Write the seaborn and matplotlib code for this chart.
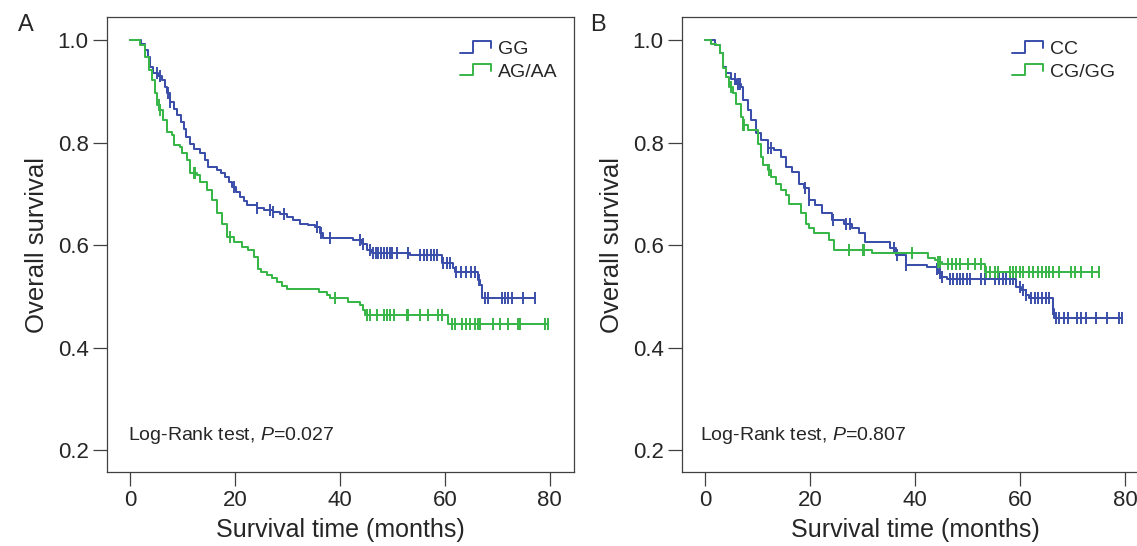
import numpy as np
import pandas as pd
import matplotlib
matplotlib.use("Agg")
import matplotlib.pyplot as plt
import seaborn as sns
from matplotlib.lines import Line2D
from matplotlib.legend_handler import HandlerBase

# ---- data (time in months, survival after the step) ----
gg_time = [0, 2.0, 2.8, 3.3, 3.7, 4.4, 5.2, 6.0, 6.6, 7.0, 7.6, 8.3, 9.0, 9.6, 10.2, 10.7,
           11.4, 12.2, 13.3, 14.2, 14.9, 16.5, 17.3, 18.1, 18.9, 19.4, 20.2, 21.0, 21.6,
           22.2, 24.1, 25.5, 27.3, 28.6, 29.8, 31.0, 32.4, 33.8, 35.2, 36.2, 36.8, 42.5,
           44.1, 45.1, 46.0, 53.3, 59.4, 61.6, 61.9, 66.3, 66.7, 67.0, 77.1]
gg_surv = [1.0, 0.993, 0.981, 0.967, 0.948, 0.935, 0.929, 0.922, 0.909, 0.896, 0.88, 0.866,
           0.853, 0.84, 0.827, 0.811, 0.798, 0.788, 0.779, 0.766, 0.753, 0.746, 0.74, 0.733,
           0.724, 0.714, 0.704, 0.694, 0.686, 0.678, 0.672, 0.668, 0.665, 0.66, 0.655, 0.649,
           0.642, 0.639, 0.636, 0.623, 0.613, 0.61, 0.603, 0.59, 0.585, 0.58, 0.564, 0.556,
           0.548, 0.532, 0.522, 0.496, 0.496]
gg_cens = [5.1, 5.7, 7.2, 7.6, 19.7, 24.1, 26.7, 27.3, 29.4, 35.6, 36.3, 38.1, 43.8, 44.4,
           45.7, 46.2, 46.8, 47.3, 47.9, 48.4, 49.0, 49.5, 50.0, 50.8, 53.0, 55.2, 56.0, 56.6,
           57.3, 58.0, 58.5, 59.6, 60.3, 61.0, 62.2, 63.0, 64.0, 65.0, 65.7, 66.5, 67.6, 68.3,
           70.8, 71.5, 72.1, 72.7, 74.9, 77.1]

ag_time = [0, 1.9, 2.9, 3.5, 4.1, 4.8, 5.1, 5.7, 6.3, 7.0, 7.9, 8.3, 9.5, 9.8, 10.8, 11.4,
           12.7, 13.3, 14.6, 15.6, 16.5, 17.5, 18.4, 19.7, 21.3, 22.5, 23.5, 24.4, 25.0, 26.0,
           27.0, 28.0, 29.0, 29.8, 35.9, 37.5, 38.1, 41.6, 43.8, 44.4, 44.8, 60.6, 79.7]
ag_surv = [1.0, 0.99, 0.967, 0.941, 0.922, 0.896, 0.873, 0.863, 0.844, 0.821, 0.815, 0.795,
           0.792, 0.779, 0.766, 0.74, 0.737, 0.724, 0.707, 0.688, 0.662, 0.642, 0.616, 0.606,
           0.597, 0.59, 0.577, 0.554, 0.548, 0.541, 0.535, 0.528, 0.521, 0.515, 0.509, 0.502,
           0.496, 0.489, 0.483, 0.473, 0.463, 0.446, 0.446]
ag_cens = [5.4, 5.7, 12.1, 12.4, 19.0, 39.0, 45.1, 45.7, 47.0, 48.3, 48.9, 49.5, 50.2, 52.7,
           53.0, 55.2, 56.8, 58.7, 59.4, 61.3, 62.0, 63.2, 64.1, 64.8, 65.7, 66.3, 66.7, 69.2,
           70.5, 72.1, 73.9, 74.3, 79.0, 79.7]

cc_time = [0, 1.8, 2.7, 3.4, 4.0, 4.9, 5.9, 6.8, 7.1, 8.1, 8.7, 9.7, 10.6, 11.9, 13.1, 14.4,
           15.4, 16.6, 17.9, 18.8, 19.8, 21.0, 22.3, 24.2, 26.4, 28.0, 29.3, 30.5, 35.3, 36.3,
           38.2, 42.2, 44.1, 44.4, 45.1, 46.0, 59.3, 60.2, 61.2, 61.8, 66.2, 66.5, 79.5]
cc_surv = [1.0, 0.99, 0.974, 0.948, 0.935, 0.925, 0.915, 0.909, 0.883, 0.863, 0.844, 0.818,
           0.805, 0.789, 0.785, 0.772, 0.753, 0.743, 0.72, 0.711, 0.688, 0.678, 0.662, 0.649,
           0.642, 0.633, 0.623, 0.606, 0.595, 0.58, 0.562, 0.558, 0.554, 0.545, 0.537, 0.533,
           0.519, 0.512, 0.502, 0.496, 0.476, 0.457, 0.457]
cc_cens = [5.7, 6.3, 6.6, 11.9, 12.5, 19.0, 19.8, 24.4, 26.9, 27.5, 35.9, 36.5, 38.2, 44.1,
           44.7, 45.1, 46.6, 47.3, 47.9, 48.5, 49.2, 49.8, 50.4, 52.6, 53.3, 55.2, 56.0, 56.7,
           57.3, 58.0, 58.6, 60.0, 60.6, 61.2, 62.1, 62.8, 63.5, 64.2, 65.0, 65.6, 66.2, 66.9,
           67.5, 68.4, 69.1, 70.9, 71.6, 72.5, 74.4, 76.6, 78.8, 79.5]

cg_time = [0, 1.1, 2.1, 2.7, 3.4, 4.0, 4.6, 5.2, 5.9, 6.8, 7.1, 8.1, 10.0, 10.6, 10.9, 11.9,
           12.5, 13.5, 14.4, 15.4, 16.0, 18.2, 19.1, 19.8, 20.7, 23.6, 24.5, 31.8, 42.5, 43.7,
           44.4, 45.1, 53.3, 75.1]
cg_surv = [1.0, 0.993, 0.99, 0.974, 0.945, 0.928, 0.909, 0.896, 0.876, 0.85, 0.834, 0.824,
           0.798, 0.772, 0.756, 0.746, 0.733, 0.72, 0.707, 0.698, 0.681, 0.662, 0.642, 0.633,
           0.623, 0.61, 0.59, 0.584, 0.575, 0.571, 0.567, 0.563, 0.548, 0.548]
cg_cens = [4.9, 7.1, 7.3, 12.1, 27.4, 30.0, 30.2, 39.4, 44.4, 44.7, 46.3, 47.0, 47.8, 48.5,
           50.1, 51.4, 52.6, 53.6, 54.2, 55.3, 55.8, 58.0, 58.6, 59.3, 59.9, 60.5, 61.8, 62.5,
           63.5, 64.2, 65.0, 65.5, 66.2, 67.5, 69.7, 70.5, 71.6, 73.8, 75.1]

BLUE = "#3B4FAA"
GREEN = "#38B648"
FRAME = "#404040"
X_LO, X_HI = -4.5, 84.6

sns.set_theme(style="white")
plt.rcParams["font.family"] = ["Liberation Sans", "DejaVu Sans"]
plt.rcParams["mathtext.fontset"] = "custom"
plt.rcParams["mathtext.it"] = "Liberation Sans:italic"
plt.rcParams["mathtext.rm"] = "Liberation Sans"


class StepHandler(HandlerBase):
    # legend key drawn as a small KM step
    def create_artists(self, legend, orig_handle, xdescent, ydescent, width, height,
                       fontsize, trans):
        xs = np.array([0, 0.42, 0.42, 1.0, 1.0]) * width - xdescent
        ys = np.array([0.1, 0.1, 0.95, 0.95, 0.45]) * height - ydescent
        line = Line2D(xs, ys, color=orig_handle.get_color(), lw=1.4, transform=trans)
        return [line]


def km_frame(times, surv, group):
    return pd.DataFrame({"time": times, "surv": surv, "group": group})


def censor_frame(times, cens, surv_t, surv_s, group):
    idx = np.searchsorted(surv_t, cens, side="right") - 1
    return pd.DataFrame({"time": cens, "surv": np.asarray(surv_s)[idx], "group": group})


def draw_panel(ax, curves, labels, pval, legend_x, text_x, x_hi):
    colors = [BLUE, GREEN]
    for (t, s, c), lab, col in zip(curves, labels, colors):
        d = km_frame(t, s, lab)
        sns.lineplot(data=d, x="time", y="surv", ax=ax, color=col, lw=1.45,
                     drawstyle="steps-post", estimator=None, sort=False, legend=False)
        cf = censor_frame(t, c, t, s, lab)
        ax.plot(cf["time"], cf["surv"], ls="none", marker="|", ms=8, mew=1.4, color=col)

    ax.set_xlim(X_LO, x_hi)
    ax.set_ylim(0.157, 1.045)
    ax.set_xticks([0, 20, 40, 60, 80])
    ax.set_yticks([0.2, 0.4, 0.6, 0.8, 1.0])
    ax.set_yticklabels(["0.2", "0.4", "0.6", "0.8", "1.0"])
    ax.set_xlabel("Survival time (months)", fontsize=18)
    ax.set_ylabel("Overall survival", fontsize=18.5, labelpad=6)
    # keep the x label centred under 40 months, like in the original layout
    ax.xaxis.set_label_coords((40 - X_LO) / (x_hi - X_LO), -0.1)
    ax.tick_params(direction="out", length=10, width=0.9, color=FRAME, labelsize=16,
                   pad=3, left=True, bottom=True)
    for sp in ax.spines.values():
        sp.set_color(FRAME)
        sp.set_linewidth(0.9)

    handles = [Line2D([], [], color=BLUE), Line2D([], [], color=GREEN)]
    ax.legend(handles, labels, loc="upper left", bbox_to_anchor=(legend_x, 0.948),
              frameon=False, fontsize=14, handlelength=1.6, handletextpad=0.35,
              labelspacing=0.25, borderpad=0, borderaxespad=0,
              handler_map={Line2D: StepHandler()})
    ax.text(text_x, 0.081, "Log-Rank test, $\\mathit{P}$=" + pval, transform=ax.transAxes,
            fontsize=14, va="center", ha="left")


fig = plt.figure(figsize=(11.37, 5.46), dpi=100)
ax_a = fig.add_axes([0.0938, 0.1355, 0.411, 0.8333])
# panel B runs past the right edge of the picture, as in the original
ax_b = fig.add_axes([0.5996, 0.1355, 0.44, 0.8333])
x_hi_b = X_HI + (0.44 - 0.411) / 0.411 * (X_HI - X_LO)

draw_panel(ax_a, [(gg_time, gg_surv, gg_cens), (ag_time, ag_surv, ag_cens)],
           ["GG", "AG/AA"], "0.027", 0.756, 0.046, X_HI)
draw_panel(ax_b, [(cc_time, cc_surv, cc_cens), (cg_time, cg_surv, cg_cens)],
           ["CC", "CG/GG"], "0.807", 0.66, 0.037, x_hi_b)

fig.text(0.016, 0.955, "A", fontsize=17, va="center", ha="left")
fig.text(0.519, 0.955, "B", fontsize=17, va="center", ha="left")

fig.savefig("out.png", dpi=100)
